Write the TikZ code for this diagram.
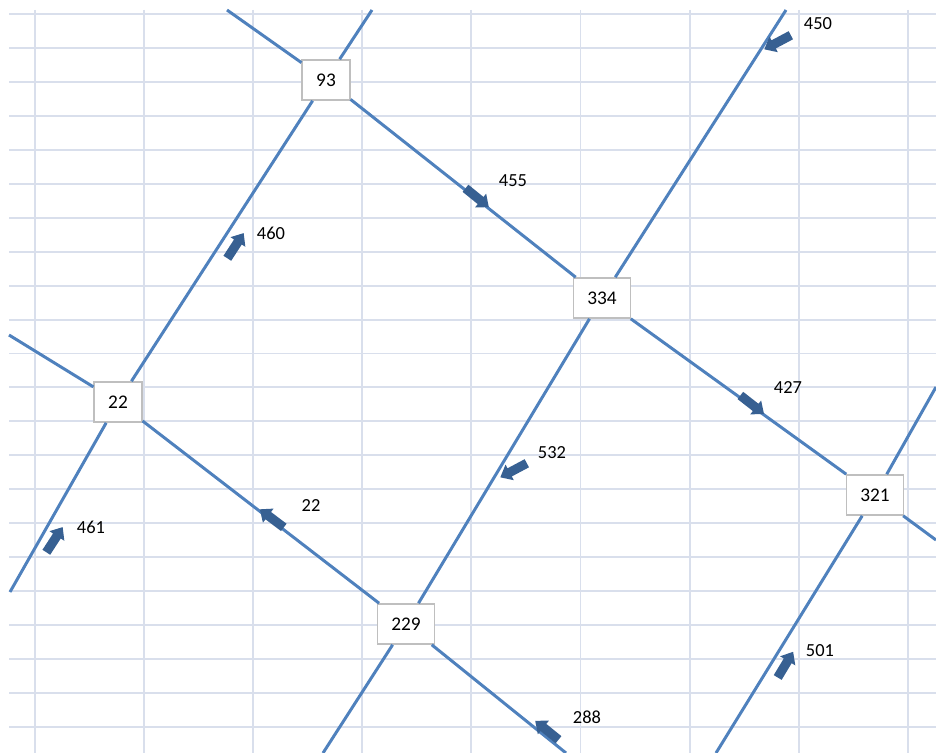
\documentclass[tikz,border=0pt]{standalone}
\usepackage{fontspec}
\setmainfont{Carlito}
\usetikzlibrary{
    shapes.arrows
}
\definecolor{gridcolor}{RGB}{217, 223, 236}
\definecolor{pipecolor}{RGB}{79, 129, 189}
\definecolor{flowcolor}{RGB}{55, 96, 146}
\definecolor{boxcolor}{RGB}{191, 191, 191}

\begin{document}
\begin{tikzpicture}[
    x=0.02cm, y=-0.02cm,
    % Background grid
    gridline/.style={
        draw=gridcolor,
        line width=1.1pt
    },
    % Pipe segment
    pipe/.style={
        draw=pipecolor,
        line width=1.7pt
    },
    % Junction box
    junction/.style={
        rectangle,
        draw=boxcolor,
        fill=white,
        line width=0.9pt,
        inner xsep=0.28cm,
        minimum height=0.8cm,
        font=\fontsize{11}{13}\selectfont
    },
    % Flow arrow
    flow/.style={
        single arrow,
        fill=flowcolor,
        draw=none,
        inner xsep=0pt,
        inner ysep=0.085cm,
        minimum width=0.34cm,
        minimum height=0.6cm,
        single arrow head extend=0.085cm,
        single arrow tip angle=80,
        rotate=#1
    },
    % Flow value
    flowlabel/.style={
        font=\fontsize{10.5}{12}\selectfont,
        inner sep=0pt
    }
]

\useasboundingbox (0, 0) rectangle (936, 753);

% ============================================
% GRID
% ============================================

\foreach \k in {0,...,21} {
    \pgfmathsetmacro\gy{14 + 33.95*\k}
    \draw[gridline] (9, \gy) -- (936, \gy);
}
\foreach \k in {0,...,8} {
    \pgfmathsetmacro\gx{35 + 109.1*\k}
    \draw[gridline] (\gx, 10) -- (\gx, 753);
}

% ============================================
% JUNCTIONS
% ============================================

\node[junction] (j93) at (326, 80) {93};
\node[junction] (j22) at (118, 402) {22};
\node[junction] (j334) at (602, 298) {334};
\node[junction] (j229) at (406, 624) {229};
\node[junction] (j321) at (875, 495) {321};

% Open pipe ends (at the edge of the plot)
\coordinate (w22) at (9, 335);
\coordinate (sw22) at (10, 592);
\coordinate (nw93) at (227, 10);
\coordinate (ne93) at (372, 10);
\coordinate (ne334) at (786, 10);
\coordinate (sw229) at (323, 753);
\coordinate (se229) at (566, 753);
\coordinate (ne321) at (936, 387);
\coordinate (e321) at (936, 540);
\coordinate (sw321) at (716, 753);

% ============================================
% PIPES
% ============================================

\foreach \a/\b in {j22/j93, j93/j334, j334/j321, j22/j229, j334/j229,
                   w22/j22, sw22/j22, nw93/j93, ne93/j93, ne334/j334,
                   sw229/j229, se229/j229, ne321/j321, e321/j321, sw321/j321} {
    \draw[pipe] (\a) -- (\b);
}

% ============================================
% FLOWS
% ============================================

\node[flow=57] (f460) at (234, 248) {};
\node[flowlabel] (l460) at (271, 233) {460};

\node[flow=-39] (f455) at (475, 196) {};
\node[flowlabel] (l455) at (513, 181) {455};

\node[flow=208] (f450) at (780, 41) {};
\node[flowlabel] (l450) at (818, 24) {450};

\node[flow=-38] (f427) at (750, 403) {};
\node[flowlabel] (l427) at (788, 388) {427};

\node[flow=208] (f532) at (516, 469) {};
\node[flowlabel] (l532) at (552, 453) {532};

\node[flow=143] (f22) at (274, 520) {};
\node[flowlabel] (l22) at (311, 506) {22};

\node[flow=57] (f461) at (53, 542) {};
\node[flowlabel] (l461) at (91, 527) {461};

\node[flow=141] (f288) at (549, 732) {};
\node[flowlabel] (l288) at (587, 717) {288};

\node[flow=59] (f501) at (784, 667) {};
\node[flowlabel] (l501) at (820, 651) {501};

\end{tikzpicture}
\end{document}
